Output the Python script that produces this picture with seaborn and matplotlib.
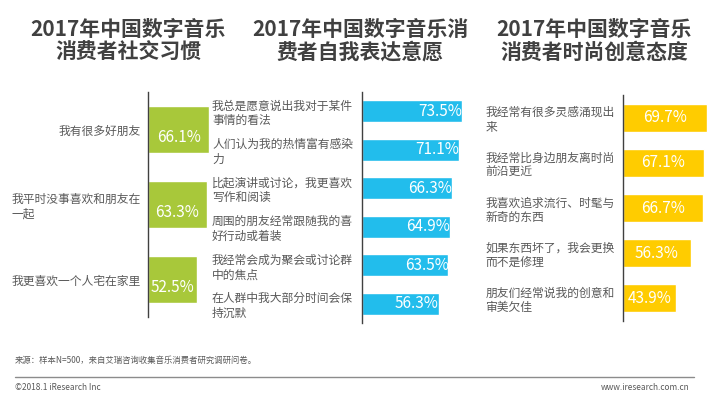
import matplotlib
matplotlib.use("Agg")
import matplotlib.pyplot as plt
from matplotlib.lines import Line2D
import seaborn as sns
import pandas as pd

# ______________________________________________________ DATA
social_labels = ['我有很多好朋友', '我平时没事喜欢和朋友在\n一起', '我更喜欢一个人宅在家里']
social_values = [66.1, 63.3, 52.5]

express_labels = ['我总是愿意说出我对于某件\n事情的看法', '人们认为我的热情富有感染\n力',
                  '比起演讲或讨论，我更喜欢\n写作和阅读', '周围的朋友经常跟随我的喜\n好行动或着装',
                  '我经常会成为聚会或讨论群\n中的焦点', '在人群中我大部分时间会保\n持沉默']
express_values = [73.5, 71.1, 66.3, 64.9, 63.5, 56.3]

fashion_labels = ['我经常有很多灵感涌现出\n来', '我经常比身边朋友离时尚\n前沿更近', '我喜欢追求流行、时髦与\n新奇的东西',
                  '如果东西坏了，我会更换\n而不是修理', '朋友们经常说我的创意和\n审美欠佳']
fashion_values = [69.7, 67.1, 66.7, 56.3, 43.9]

titles = ['2017年中国数字音乐\n消费者社交习惯', '2017年中国数字音乐消\n费者自我表达意愿', '2017年中国数字音乐\n消费者时尚创意态度']

# ______________________________________________________ STYLE
sns.set_style('white')
plt.rcParams['font.family'] = ['Noto Sans CJK SC', 'DejaVu Sans']

W, H = 721, 393
fig = plt.figure(figsize=(W / 100, H / 100), dpi=100)

label_col = '#595959'


def px_axes(x, y_top, width, y_bot):
    return fig.add_axes([x / W, 1 - y_bot / H, width / W, (y_bot - y_top) / H])


# (axis x, top, width, bottom, xmax, bar colour, data, tick pad, label align, bar width)
panels = [
    (148, 92, 93, 317, 100, '#A8C83A', social_labels, social_values, 5, 'right', 0.63),
    (362, 92, 136, 323, 100, '#22BDEC', express_labels, express_values, 108, 'left', 0.58),
    (623, 95, 96, 321, 80, '#FFCC00', fashion_labels, fashion_values, 99, 'left', 0.62),
]

for k, (x0, top, w, bot, xmax, col, labels, values, pad, ha, bw) in enumerate(panels):
    ax = px_axes(x0, top, w, bot)
    ax.set_facecolor('none')
    df = pd.DataFrame({'label': labels, 'value': values})
    sns.barplot(data=df, x='value', y='label', color=col, saturation=1,
                width=bw, orient='h', ax=ax)
    ax.set_xlim(0, xmax)
    ax.set_xlabel('')
    ax.set_ylabel('')
    ax.set_xticks([])
    sns.despine(ax=ax, top=True, right=True, bottom=True, left=False)
    ax.spines['left'].set_color('#404040')
    ax.spines['left'].set_linewidth(1.0)
    ax.tick_params(axis='y', length=0, pad=pad, labelsize=8.5, labelcolor=label_col)
    for t in ax.get_yticklabels():
        t.set_ha(ha)
        t.set_multialignment('left')
        t.set_linespacing(1.15)

    for i, v in enumerate(values):
        if k == 0:
            tx, ty = v / 2, i + 0.1
        elif k == 1:
            tx, ty = v - 16, i
        else:
            tx, ty = v / 2, i
        ax.text(tx, ty, f'{v:.1f}%', color='white', fontsize=11,
                ha='center', va='center')

# ______________________________________________________ TITLES
for cx, t in zip([128, 360, 594], titles):
    fig.text(cx / W, 1 - 41 / H, t, ha='center', va='center', fontsize=15,
             fontweight='bold', color='#404040', linespacing=1.1)

# ______________________________________________________ FOOTER
fig.text(15 / W, 1 - 360 / H, '来源：样本N=500，来自艾瑞咨询收集音乐消费者研究调研问卷。',
         fontsize=6, color='#595959', va='center', ha='left')
fig.add_artist(Line2D([15 / W, 694 / W], [1 - 377 / H] * 2, color='#8c8c8c', lw=1))
fig.text(15 / W, 1 - 387 / H, '©2018.1 iResearch Inc', fontsize=6,
         color='#595959', va='center', ha='left')
fig.text(690 / W, 1 - 387 / H, 'www.iresearch.com.cn', fontsize=6,
         color='#595959', va='center', ha='right')

fig.savefig('out.png', dpi=100)
